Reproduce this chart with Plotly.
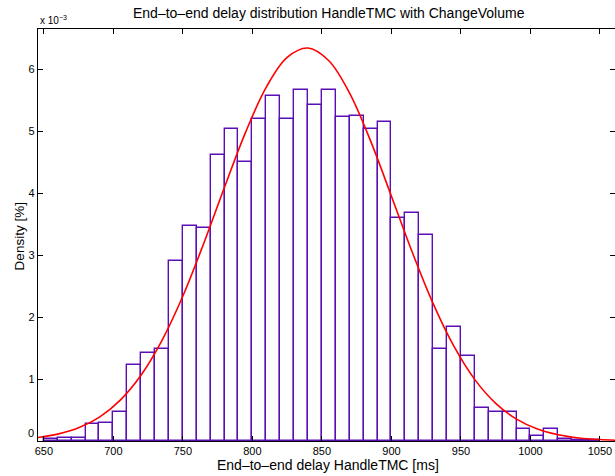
import plotly.graph_objects as go

# ---- data ----
bin_left = [650, 660, 670, 680, 690, 700, 710, 720, 730, 740,
            750, 760, 770, 780, 790, 800, 810, 820, 830, 840,
            850, 860, 870, 880, 890, 900, 910, 920, 930, 940,
            950, 960, 970, 980, 990, 1000, 1010, 1020, 1030, 1040]
bin_width = 10
density_e3 = [0.03, 0.05, 0.05, 0.27, 0.29, 0.46, 1.23, 1.42, 1.49, 2.90,
              3.47, 3.43, 4.62, 5.04, 4.50, 5.20, 5.56, 5.19, 5.66, 5.42,
              5.66, 5.22, 5.24, 5.03, 5.14, 3.60, 3.67, 3.33, 1.48, 1.84,
              1.37, 0.54, 0.47, 0.47, 0.20, 0.08, 0.19, 0.04, 0.02, 0.01]

fit_x = [645, 660, 675, 690, 705, 720, 735, 750, 765, 780, 795, 810, 825, 840,
         855, 870, 885, 900, 915, 930, 945, 960, 975, 990, 1005, 1020, 1035, 1050, 1061]
fit_y_e3 = [0.055, 0.111, 0.213, 0.386, 0.660, 1.065, 1.624, 2.339, 3.187, 4.096,
            4.975, 5.709, 6.189, 6.339, 6.133, 5.607, 4.841, 3.949, 3.044, 2.216,
            1.525, 0.990, 0.608, 0.353, 0.193, 0.100, 0.049, 0.023, 0.013]

x_ticks = [650, 700, 750, 800, 850, 900, 950, 1000, 1050]
y_ticks = [1, 2, 3, 4, 5, 6]
y_zero_label = "0"

title_text = "End\u2013to\u2013end delay distribution HandleTMC with ChangeVolume"
xlabel_text = "End\u2013to\u2013end delay HandleTMC [ms]"
ylabel_text = "Density [%]"

FONT = "Liberation Sans, Arial, Helvetica, sans-serif"
BAR_COLOR = "#5a0fb4"

fig = go.Figure()
fig.add_trace(go.Bar(
    x=[b + bin_width / 2 for b in bin_left],
    y=density_e3,
    width=bin_width,
    marker=dict(color="rgba(255,255,255,1)", line=dict(color=BAR_COLOR, width=1.4)),
    showlegend=False,
    hoverinfo="skip",
))
fig.add_trace(go.Scatter(
    x=fit_x, y=fit_y_e3, mode="lines",
    line=dict(color="#ff0000", width=1.6, shape="spline", smoothing=1.0),
    showlegend=False, hoverinfo="skip",
))

fig.update_layout(
    width=615, height=476,
    margin=dict(l=38, r=0, t=29, b=35, autoexpand=False),
    paper_bgcolor="white", plot_bgcolor="white",
    font=dict(family=FONT, size=11, color="black"),
    bargap=0,
    xaxis=dict(
        range=[645.8, 1060.8], tickvals=x_ticks,
        ticks="inside", ticklen=5, tickcolor="black", tickwidth=1,
        showline=True, linecolor="black", linewidth=1.2, mirror="ticks",
        showgrid=False, zeroline=False, automargin=False,
        tickfont=dict(size=11, family=FONT),
    ),
    yaxis=dict(
        range=[0, 6.646], tickvals=y_ticks,
        ticks="inside", ticklen=5, tickcolor="black", tickwidth=1,
        showline=True, linecolor="black", linewidth=1.2, mirror="ticks",
        showgrid=False, zeroline=False, automargin=False,
        tickfont=dict(size=11, family=FONT),
    ),
    annotations=[
        dict(text=title_text, xref="paper", yref="paper", x=0.5043, y=1.0396,
             xanchor="center", yanchor="middle", showarrow=False,
             font=dict(size=14, family=FONT)),
        dict(text=xlabel_text, xref="paper", yref="paper", x=0.5026, y=-0.0583,
             xanchor="center", yanchor="middle", showarrow=False,
             font=dict(size=14, family=FONT)),
        dict(text=ylabel_text, xref="paper", yref="paper", x=-0.0329, y=0.4967,
             xanchor="center", yanchor="middle", showarrow=False, textangle=-90,
             font=dict(size=13.5, family=FONT)),
        dict(text="x 10<sup>\u22123</sup>", xref="paper", yref="paper", x=0.0, y=1.003,
             xanchor="left", yanchor="bottom", showarrow=False,
             font=dict(size=10, family=FONT)),
        dict(text=y_zero_label, xref="paper", yref="paper", x=-0.004, y=0.02,
             xanchor="right", yanchor="middle", showarrow=False,
             font=dict(size=11, family=FONT)),
    ],
)

fig.write_html("out.html",
               config={"displayModeBar": False},
               post_script="document.body.style.margin='0px';document.body.style.overflow='hidden';")
